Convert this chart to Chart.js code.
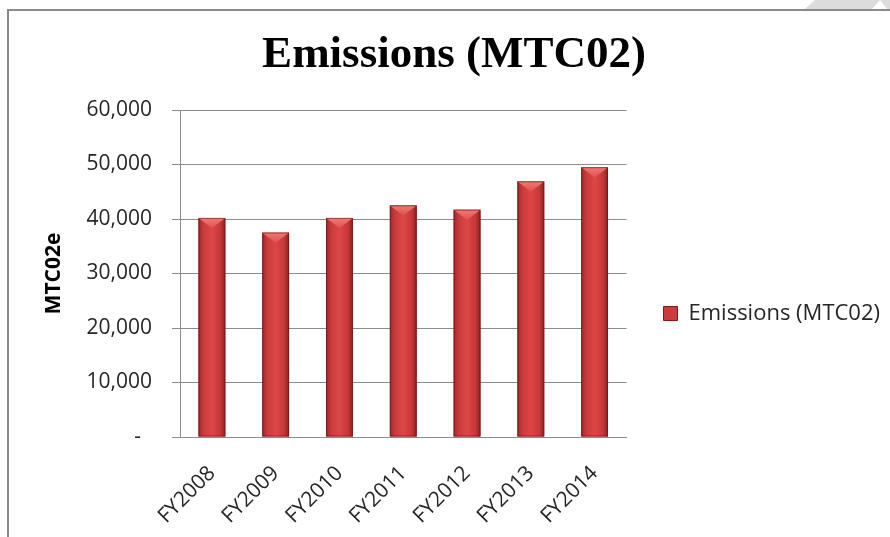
<!DOCTYPE html>
<html>
<head>
<meta charset="utf-8">
<script src="https://cdn.jsdelivr.net/npm/chart.js@4.4.1/dist/chart.umd.min.js"></script>
<style>
    html, body { margin: 0; padding: 0; background: #fff; }
    #wrap { position: relative; width: 890px; height: 537px; overflow: hidden; }
    #frame { position: absolute; left: 7px; top: 9px; right: -10px; bottom: -10px; border-left: 2px solid #8a8a8a; border-top: 2px solid #8a8a8a; }
    #corner { position: absolute; left: 0; top: 0; }
    canvas { position: absolute; left: 0; top: 0; }
</style>
</head>
<body>
<div id="wrap">
    <div id="frame"></div>
    <svg id="corner" width="890" height="10">
        <polygon points="805,9 815,0 880,0 872,9" fill="#dcdcdc"/>
        <polygon points="880,0 890,0 890,9 887,9" fill="#dcdcdc"/>
    </svg>
    <canvas id="chart" width="890" height="537"></canvas>
</div>
<script>
const chartTitle = 'Emissions (MTC02)';
const seriesName = 'Emissions (MTC02)';
const yAxisTitle = 'MTC02e';
const categories = ['FY2008', 'FY2009', 'FY2010', 'FY2011', 'FY2012', 'FY2013', 'FY2014'];
const emissions = [40200, 37500, 40200, 42500, 41700, 46900, 49500];
const yTickLabels = ['-  ', '10,000', '20,000', '30,000', '40,000', '50,000', '60,000'];

const axisGray = '#8c8c8c';
const labelColor = '#262626';
const tickFont = { family: 'Open Sans', size: 21 };

// bevel + gradient look of the excel bars, drawn over the library's bar elements
const barShade = {
    id: 'barShade',
    afterDatasetsDraw(chart) {
        const ctx = chart.ctx;
        const meta = chart.getDatasetMeta(0);
        meta.data.forEach(bar => {
            const { x, y, base, width } = bar.getProps(['x', 'y', 'base', 'width'], true);
            const left = x - width / 2;
            const h = base - y;
            ctx.save();
            let g = ctx.createLinearGradient(left, 0, left + width, 0);
            g.addColorStop(0, '#9a2828');
            g.addColorStop(0.18, '#c83b3b');
            g.addColorStop(0.5, '#de4646');
            g.addColorStop(0.82, '#c53838');
            g.addColorStop(1, '#8a2020');
            ctx.fillStyle = g;
            ctx.fillRect(left, y, width, h);

            // top bevel
            const bev = Math.min(width * 0.38, h);
            let tg = ctx.createLinearGradient(0, y, 0, y + bev);
            tg.addColorStop(0, '#f07a74');
            tg.addColorStop(1, '#e0524f');
            ctx.beginPath();
            ctx.moveTo(left, y);
            ctx.lineTo(left + width, y);
            ctx.lineTo(x, y + bev);
            ctx.closePath();
            ctx.fillStyle = tg;
            ctx.fill();

            ctx.strokeStyle = 'rgba(100, 20, 20, 0.55)';
            ctx.lineWidth = 1;
            ctx.strokeRect(left + 0.5, y + 0.5, width - 1, h - 1);
            ctx.restore();
        });
    }
};

// excel puts the legend a bit below the middle
const legendNudge = {
    id: 'legendNudge',
    afterLayout(chart) {
        const lg = chart.legend;
        lg.top += 45;
        lg.bottom += 45;
    }
};

new Chart(document.getElementById('chart'), {
    type: 'bar',
    data: {
        labels: categories,
        datasets: [{
            label: seriesName,
            data: emissions,
            backgroundColor: '#c83c3c',
            barPercentage: 0.42,
            categoryPercentage: 1
        }]
    },
    options: {
        responsive: false,
        animation: false,
        layout: { padding: { left: 18, right: 0, top: 0, bottom: 0 } },
        plugins: {
            title: {
                display: true,
                text: chartTitle,
                color: '#000',
                font: { family: 'Liberation Serif', size: 45, weight: 'bold' },
                padding: { top: 28, bottom: 28 }
            },
            legend: {
                position: 'right',
                maxWidth: 400,
                labels: {
                    boxWidth: 14,
                    boxHeight: 14,
                    padding: 37,
                    color: labelColor,
                    font: { family: 'Open Sans', size: 22 },
                    generateLabels: (chart) => {
                        const items = Chart.defaults.plugins.legend.labels.generateLabels(chart);
                        items.forEach(it => {
                            it.fillStyle = '#cc3b3b';
                            it.strokeStyle = '#7a1c1c';
                            it.lineWidth = 1;
                        });
                        return items;
                    }
                }
            },
            tooltip: { enabled: false }
        },
        scales: {
            x: {
                grid: { display: false },
                border: { display: true, color: axisGray },
                ticks: {
                    autoSkip: false,
                    minRotation: 45,
                    maxRotation: 45,
                    padding: 16,
                    color: labelColor,
                    font: tickFont
                },
                afterFit: (scale) => { scale.height = 100; }
            },
            y: {
                min: 0,
                max: 60000,
                grid: { color: axisGray, tickLength: 8 },
                border: { display: true, color: axisGray },
                ticks: {
                    stepSize: 10000,
                    padding: 20,
                    color: labelColor,
                    font: tickFont,
                    callback: (v, i) => yTickLabels[i]
                },
                title: {
                    display: true,
                    text: yAxisTitle,
                    color: '#000',
                    font: { family: 'Open Sans', size: 21, weight: 'bold' },
                    padding: { top: 23, bottom: 0 }
                },
                afterFit: (scale) => { scale.width = 162; }
            }
        }
    },
    plugins: [barShade, legendNudge]
});
</script>
</body>
</html>
